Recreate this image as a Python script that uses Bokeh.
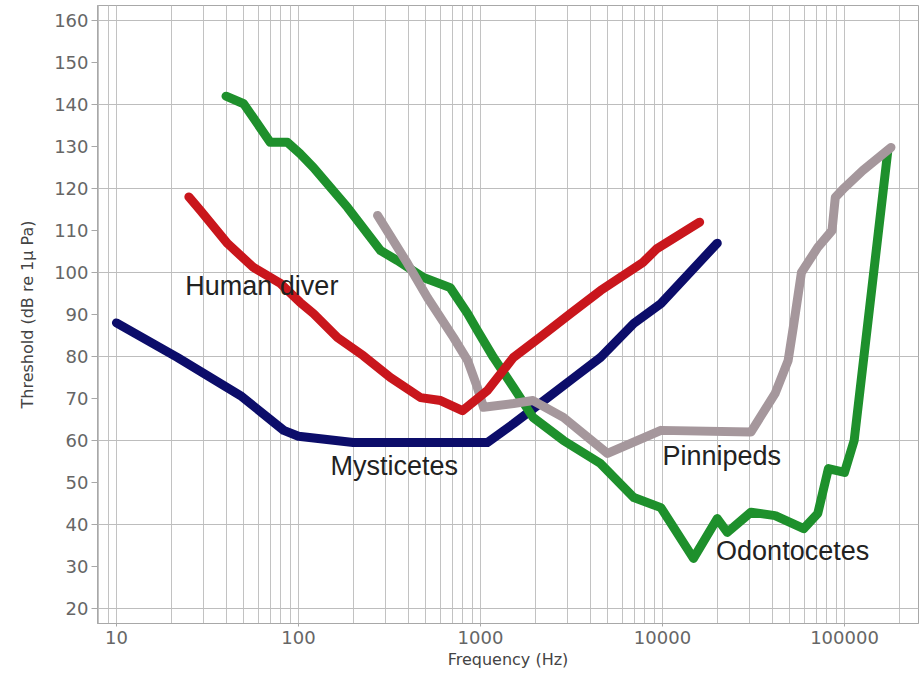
from bokeh.plotting import figure
from bokeh.models import FixedTicker, Label, PrintfTickFormatter, Range1d
from bokeh.embed import file_html
from bokeh.resources import INLINE

# ---- data (frequency in Hz, threshold in dB re 1 uPa) ----
mysticetes_f = [10, 21.6, 48, 83, 100, 200, 1090, 1520, 2230, 3270, 4570, 6960, 9800, 20000]
mysticetes_db = [88, 79.8, 70.7, 62.4, 61, 59.5, 59.5, 64, 69.5, 75, 79.8, 87.9, 92.6, 107]

diver_f = [25, 28.9, 40.8, 56.6, 79.6, 102, 121, 164, 227, 320, 469, 604, 796, 1092, 1520, 2112, 3120, 4566, 7800, 9330, 16000]
diver_db = [118, 114.8, 106.9, 101.2, 97.4, 92.9, 90.2, 84.5, 80.2, 75, 70.2, 69.5, 67.1, 71.9, 79.8, 84.5, 90.2, 95.7, 102.4, 105.7, 112]

odonto_f = [40, 50, 70, 87, 102, 121, 186, 283, 348, 486, 682, 851, 962, 1178, 1520, 1943, 2855, 4566, 6960, 9800, 14800, 20000, 22700, 30600, 41600, 59700, 71300, 81600, 100000, 113000, 173000]
odonto_db = [142, 140.2, 131, 131, 128.3, 125, 115.5, 105.2, 102.9, 98.8, 96.4, 90.2, 86.2, 79.8, 72.6, 65.5, 60, 54.5, 46.4, 44, 31.9, 41.4, 38.1, 42.9, 42.1, 39, 42.6, 53.3, 52.4, 60, 129]

pinni_f = [272, 398, 512, 712, 851, 962, 1040, 1520, 1943, 2855, 4990, 9800, 30600, 41600, 49000, 52300, 58000, 71300, 85400, 89000, 100000, 126000, 180000]
pinni_db = [113.6, 102.1, 94, 84.5, 79, 72.6, 67.9, 68.8, 69.5, 65.5, 56.9, 62.4, 62, 71.2, 79, 86.9, 100, 106, 110, 117.9, 120.2, 124.3, 129.8]

x_ticks = [10, 100, 1000, 10000, 100000]
y_ticks = [20, 30, 40, 50, 60, 70, 80, 90, 100, 110, 120, 130, 140, 150, 160]
y_grid = [20, 40, 60, 80, 100, 120, 140, 160]

labels = ["Human diver", "Mysticetes", "Pinnipeds", "Odontocetes"]
label_f = [23.9, 150, 10000, 19700]
label_db = [96.7, 53.8, 56.2, 33.6]

p = figure(width=920, height=676, x_axis_type="log",
           x_range=Range1d(7.87, 255000), y_range=Range1d(16.4, 163.6),
           output_backend="svg", toolbar_location=None,
           min_border_left=97, min_border_right=2, min_border_top=5, min_border_bottom=53)
p.background_fill_color = "white"
p.border_fill_color = "white"
p.outline_line_color = "#a8a8a8"

minor = [m * 10 ** e for e in range(0, 6) for m in range(2, 10)]
p.xaxis.ticker = FixedTicker(ticks=x_ticks, minor_ticks=minor)
p.xaxis.formatter = PrintfTickFormatter(format="%d")
p.yaxis.ticker = FixedTicker(ticks=y_ticks)
p.ygrid.ticker = FixedTicker(ticks=y_grid)

p.xgrid.grid_line_color = "#c2c2c2"
p.xgrid.minor_grid_line_color = "#c2c2c2"
p.ygrid.grid_line_color = "#bdbdbd"

for ax in (p.xaxis, p.yaxis):
    ax.axis_line_color = "#a8a8a8"
    ax.major_tick_line_color = "#a8a8a8"
    ax.minor_tick_line_color = None
    ax.major_tick_in = 0
    ax.major_label_text_font = "DejaVu Sans"
    ax.major_label_text_font_size = "18px"
    ax.major_label_text_color = "#666666"
    ax.axis_label_text_font = "DejaVu Sans"
    ax.axis_label_text_font_size = "16px"
    ax.axis_label_text_font_style = "normal"
    ax.axis_label_text_color = "#444444"

p.xaxis.major_tick_out = 3
p.xaxis.major_label_standoff = 3
p.xaxis.axis_label_standoff = 3
p.yaxis.major_tick_out = 6
p.yaxis.major_label_standoff = 3
p.yaxis.axis_label_standoff = 14
p.xaxis.axis_label = "Frequency (Hz)"
p.yaxis.axis_label = "Threshold (dB re 1\u03bc Pa)"

lw = 9
p.line(mysticetes_f, mysticetes_db, line_color="#0c0d6a", line_width=lw, line_cap="round", line_join="round")
p.line(odonto_f, odonto_db, line_color="#1e902c", line_width=lw, line_cap="round", line_join="round")
p.line(pinni_f, pinni_db, line_color="#a5979c", line_width=lw, line_cap="round", line_join="round")
p.line(diver_f, diver_db, line_color="#c9161c", line_width=lw, line_cap="round", line_join="round")

for t, fx, dy in zip(labels, label_f, label_db):
    p.add_layout(Label(x=fx, y=dy, text=t, text_font="Liberation Sans", text_font_size="27px",
                       text_color="#222222", text_baseline="middle", text_align="left"))

open("out.html", "w").write(file_html(p, INLINE))
